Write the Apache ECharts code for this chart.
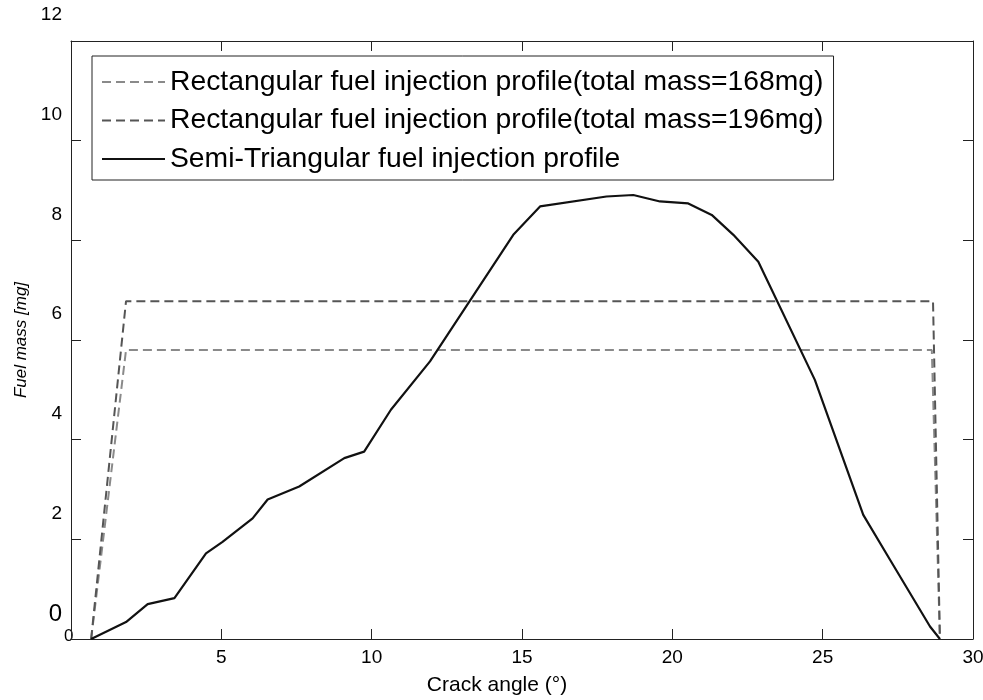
<!doctype html>
<html lang="en">
<head>
    <meta charset="UTF-8">
    <title>Fuel injection profiles</title>
    <script src="https://cdn.jsdelivr.net/npm/echarts@6/dist/echarts.min.js"></script>
    <style>
        html, body { margin: 0; padding: 0; background: #fff; }
        #chart { width: 983px; height: 700px; }
    </style>
</head>
<body>
    <div id="chart"></div>
    <script>
        // --- data ---
        const crankAngle = [0.67, 1.83, 2.55, 3.44, 4.49, 5.04, 6.04, 6.54, 7.59, 9.09, 9.75, 10.64, 11.94,
            14.71, 15.6, 17.81, 18.7, 19.59, 20.53, 21.31, 22.03, 22.86, 24.74, 26.35, 27.24, 28.57, 28.9];
        const semiTriMass = [0, 0.34, 0.70, 0.82, 1.72, 1.95, 2.42, 2.80, 3.06, 3.63, 3.76, 4.60, 5.57,
            8.11, 8.68, 8.88, 8.91, 8.78, 8.74, 8.51, 8.11, 7.57, 5.20, 2.49, 1.59, 0.25, 0];

        const rectAngle168 = [0.67, 1.83, 28.63, 28.9];
        const rectMass168 = [0, 5.80, 5.80, 0];
        const rectAngle196 = [0.67, 1.83, 28.67, 28.9];
        const rectMass196 = [0, 6.78, 6.78, 0];

        const seriesNames = [
            'Rectangular fuel injection profile(total mass=168mg)',
            'Rectangular fuel injection profile(total mass=196mg)',
            'Semi-Triangular fuel injection profile'
        ];

        const pairs = (xs, ys) => xs.map((x, i) => [x, ys[i]]);
        const font = 'Liberation Sans, Arial, sans-serif';

        // frame axes: line + inward ticks, no labels
        const frameTick = { show: true, inside: true, length: 10, lineStyle: { color: '#222' } };
        const frameLine = { show: true, onZero: false, lineStyle: { color: '#222', width: 1 } };

        const chart = echarts.init(document.getElementById('chart'));
        chart.setOption({
            animation: false,
            textStyle: { fontFamily: font },
            grid: { left: 71, right: 10, top: 41, bottom: 61, outerBoundsMode: 'none', containLabel: false },
            legend: {
                orient: 'vertical',
                left: 92, top: 56,
                padding: [12, 10, 7, 9],
                backgroundColor: '#fff',
                borderColor: '#222', borderWidth: 1,
                itemWidth: 63, itemHeight: 14, itemGap: 10.5,
                itemStyle: { opacity: 0 },
                textStyle: { fontSize: 28.3, lineHeight: 28, color: '#000', fontFamily: font },
                data: seriesNames
            },
            xAxis: [{
                type: 'value', min: 0, max: 30, interval: 5,
                name: 'Crack angle (°)', nameLocation: 'middle', nameGap: 36,
                nameTextStyle: { fontSize: 21, color: '#000', padding: [0, 50, 0, 0] },
                axisLine: frameLine,
                axisTick: frameTick,
                axisLabel: {
                    fontSize: 19, color: '#000', margin: 9,
                    formatter: v => v === 0 ? '' : String(v)
                },
                splitLine: { show: false }
            }, {
                type: 'value', min: 0, max: 30, interval: 5, position: 'top',
                axisLine: frameLine,
                axisTick: frameTick,
                axisLabel: { show: false },
                splitLine: { show: false }
            }],
            yAxis: [{
                type: 'value', min: 0, max: 12, interval: 2,
                name: 'Fuel mass [mg]', nameLocation: 'middle', nameGap: 36,
                nameTextStyle: { fontSize: 17, fontStyle: 'italic', color: '#000' },
                axisLine: frameLine,
                axisTick: frameTick,
                axisLabel: {
                    fontSize: 19, color: '#000', margin: 9,
                    verticalAlign: 'bottom', lineHeight: 52,
                    formatter: v => v === 0 ? '{big|0}' : String(v),
                    rich: { big: { fontSize: 24, lineHeight: 50, color: '#000' } }
                },
                splitLine: { show: false }
            }, {
                type: 'value', min: 0, max: 12, interval: 2, position: 'right',
                axisLine: frameLine,
                axisTick: frameTick,
                axisLabel: { show: false },
                splitLine: { show: false }
            }],
            graphic: [{
                type: 'text', left: 64, top: 628,
                style: { text: '0', fontSize: 17, fill: '#000', fontFamily: font }
            }],
            series: [{
                name: seriesNames[0],
                type: 'line', showSymbol: false, symbol: 'none',
                data: pairs(rectAngle168, rectMass168),
                lineStyle: { color: '#8a8a8a', width: 2, type: [9, 5] },
                itemStyle: { color: '#8a8a8a' }
            }, {
                name: seriesNames[1],
                type: 'line', showSymbol: false, symbol: 'none',
                data: pairs(rectAngle196, rectMass196),
                lineStyle: { color: '#555', width: 2, type: [9, 5] },
                itemStyle: { color: '#555' }
            }, {
                name: seriesNames[2],
                type: 'line', showSymbol: false, symbol: 'none',
                data: pairs(crankAngle, semiTriMass),
                lineStyle: { color: '#111', width: 2.2 },
                itemStyle: { color: '#111' }
            }]
        });
    </script>
</body>
</html>
